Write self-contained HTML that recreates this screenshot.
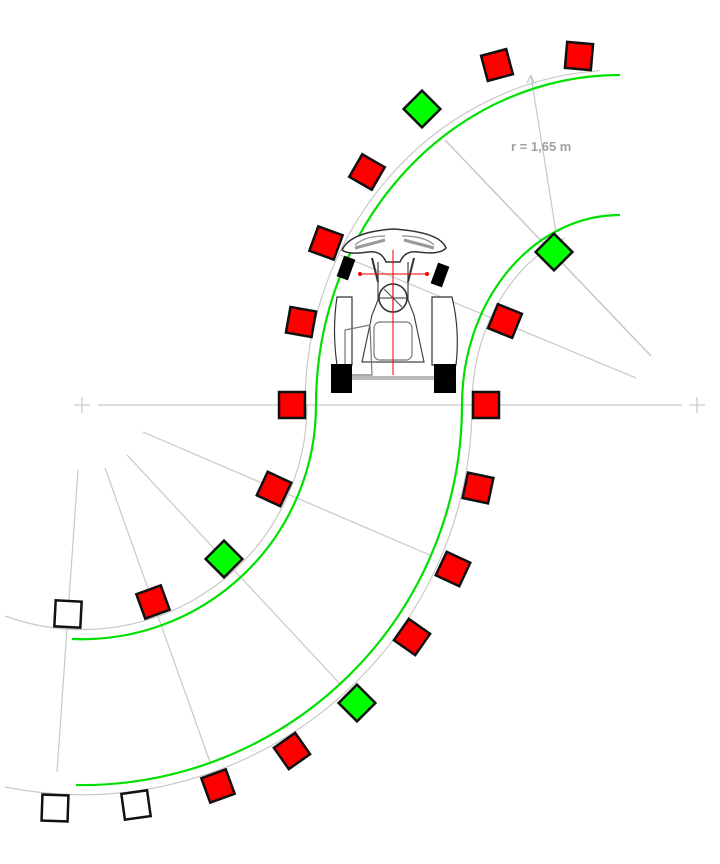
<!DOCTYPE html>
<html><head><meta charset="utf-8"><style>
html,body{margin:0;padding:0;background:#fff;}
svg{display:block}
</style></head><body>
<svg width="720" height="864" viewBox="0 0 720 864" xmlns="http://www.w3.org/2000/svg">
<g fill="none" stroke="#c8c8c8" stroke-width="1.2">
  <line x1="98" y1="405" x2="682" y2="405"/>
  <line x1="74" y1="405" x2="90" y2="405"/><line x1="82" y1="397" x2="82" y2="413"/>
  <line x1="689" y1="405" x2="705" y2="405"/><line x1="697" y1="397" x2="697" y2="413"/>
  <line x1="143" y1="432" x2="432" y2="556"/>
  <line x1="127" y1="455" x2="341" y2="685"/>
  <line x1="105" y1="468" x2="210" y2="762"/>
  <line x1="78" y1="470" x2="57" y2="772"/>
  <line x1="340" y1="255" x2="636" y2="378"/>
  <line x1="445" y1="140" x2="651" y2="356" stroke-width="1.5"/>
  <line x1="531" y1="76" x2="556" y2="232"/>
  <path d="M531,75 l-4,8 M531,75 l3,8"/>
  <path d="M305,405 A315,335 0 0 1 600,70.7"/>
  <path d="M472,405 A148,180 0 0 1 565,238"/>
  <path d="M307,405 A225,225 0 0 1 5,616"/>
  <path d="M472,405 A390,390 0 0 1 5,787"/>
</g>
<g fill="none" stroke="#00e000" stroke-width="2.2">
  <path d="M316,405 A304,330 0 0 1 620,75"/>
  <path d="M462,405 A158,190 0 0 1 620,215"/>
  <path d="M316,405 A234,234 0 0 1 72,639"/>
  <path d="M462,405 A380,380 0 0 1 76,785"/>
</g>
<text x="511" y="151" font-family="Liberation Sans, sans-serif" font-size="13" font-weight="bold" fill="#a0a0a0">r = 1,65 m</text>

<g stroke="#555" stroke-width="1.2" fill="#fff">
  <path d="M342,250 Q350,232 393,229 Q440,232 446,248 Q440,255 418,252 Q405,250 400,262 L386,262 Q381,250 368,252 Q348,255 342,250 Z" stroke="#333" stroke-width="1.5"/>
  <path d="M355,245 Q365,236 385,236 M402,236 Q425,236 434,245" stroke="#888"/>
  <path d="M355,248 L385,240 M404,240 L434,248" stroke="#999" stroke-width="3"/>
  <path d="M337,297 L352,297 L352,365 L337,365 Q332,330 337,297 Z" stroke="#333"/>
  <path d="M432,297 L452,297 Q460,330 456,365 L432,365 Z" stroke="#333"/>
  <path d="M378,262 L378,300 L372,315 L362,362 L424,362 L414,315 L408,300 L408,262" fill="none" stroke="#444"/>
  <rect x="374" y="322" width="38" height="38" rx="6" fill="none" stroke="#777"/>
  <path d="M345,330 L370,325 L372,375 L345,375 Z" fill="none" stroke="#777"/>
  <circle cx="393" cy="298" r="14" fill="none" stroke="#333" stroke-width="1.6"/>
  <path d="M380,298 L406,298 M393,285 L393,311 M384,289 L402,307" stroke="#555" fill="none"/>
  <path d="M372,258 L378,282 M414,258 L408,282" stroke="#333" stroke-width="2" fill="none"/>
</g>
<rect x="352" y="376" width="82" height="4" fill="#bbb"/>
<rect x="331" y="364" width="21" height="29" fill="#000"/>
<rect x="434" y="364" width="22" height="29" fill="#000"/>
<rect x="340" y="257" width="12" height="22" fill="#000" transform="rotate(20 346 268)"/>
<rect x="434" y="264" width="12" height="22" fill="#000" transform="rotate(20 440 275)"/>
<line x1="360" y1="274" x2="427" y2="274" stroke="#e00" stroke-width="1"/>
<line x1="393" y1="250" x2="393" y2="375" stroke="#e00" stroke-width="1"/>
<circle cx="360" cy="274" r="2" fill="#e00"/><circle cx="427" cy="274" r="2" fill="#e00"/>

<g stroke="#111" stroke-width="2.5">
  <rect x="-13" y="-13" width="26" height="26" fill="#f00" transform="translate(579,56) rotate(5)"/>
  <rect x="-13" y="-13" width="26" height="26" fill="#f00" transform="translate(497,65) rotate(-15)"/>
  <rect x="-13" y="-13" width="26" height="26" fill="#0f0" transform="translate(422,109) rotate(45)"/>
  <rect x="-13" y="-13" width="26" height="26" fill="#f00" transform="translate(367,172) rotate(30)"/>
  <rect x="-13" y="-13" width="26" height="26" fill="#f00" transform="translate(326,243) rotate(20)"/>
  <rect x="-13" y="-13" width="26" height="26" fill="#f00" transform="translate(301,322) rotate(10)"/>
  <rect x="-13" y="-13" width="26" height="26" fill="#f00" transform="translate(292,405)"/>
  <rect x="-13" y="-13" width="26" height="26" fill="#f00" transform="translate(486,405)"/>
  <rect x="-13" y="-13" width="26" height="26" fill="#f00" transform="translate(505,321) rotate(22)"/>
  <rect x="-13" y="-13" width="26" height="26" fill="#0f0" transform="translate(554,252) rotate(45)"/>
  <rect x="-13" y="-13" width="26" height="26" fill="#f00" transform="translate(274,489) rotate(25)"/>
  <rect x="-13" y="-13" width="26" height="26" fill="#0f0" transform="translate(224,559) rotate(45)"/>
  <rect x="-13" y="-13" width="26" height="26" fill="#f00" transform="translate(153,602) rotate(-20)"/>
  <rect x="-13" y="-13" width="26" height="26" fill="#fff" transform="translate(68,614) rotate(3)"/>
  <rect x="-13" y="-13" width="26" height="26" fill="#f00" transform="translate(478,488) rotate(12)"/>
  <rect x="-13" y="-13" width="26" height="26" fill="#f00" transform="translate(453,569) rotate(25)"/>
  <rect x="-13" y="-13" width="26" height="26" fill="#f00" transform="translate(412,637) rotate(35)"/>
  <rect x="-13" y="-13" width="26" height="26" fill="#0f0" transform="translate(357,703) rotate(45)"/>
  <rect x="-13" y="-13" width="26" height="26" fill="#f00" transform="translate(292,751) rotate(-35)"/>
  <rect x="-13" y="-13" width="26" height="26" fill="#f00" transform="translate(218,786) rotate(-20)"/>
  <rect x="-13" y="-13" width="26" height="26" fill="#fff" transform="translate(136,805) rotate(-8)"/>
  <rect x="-13" y="-13" width="26" height="26" fill="#fff" transform="translate(55,808) rotate(2)"/>
</g>
</svg>
</body></html>
